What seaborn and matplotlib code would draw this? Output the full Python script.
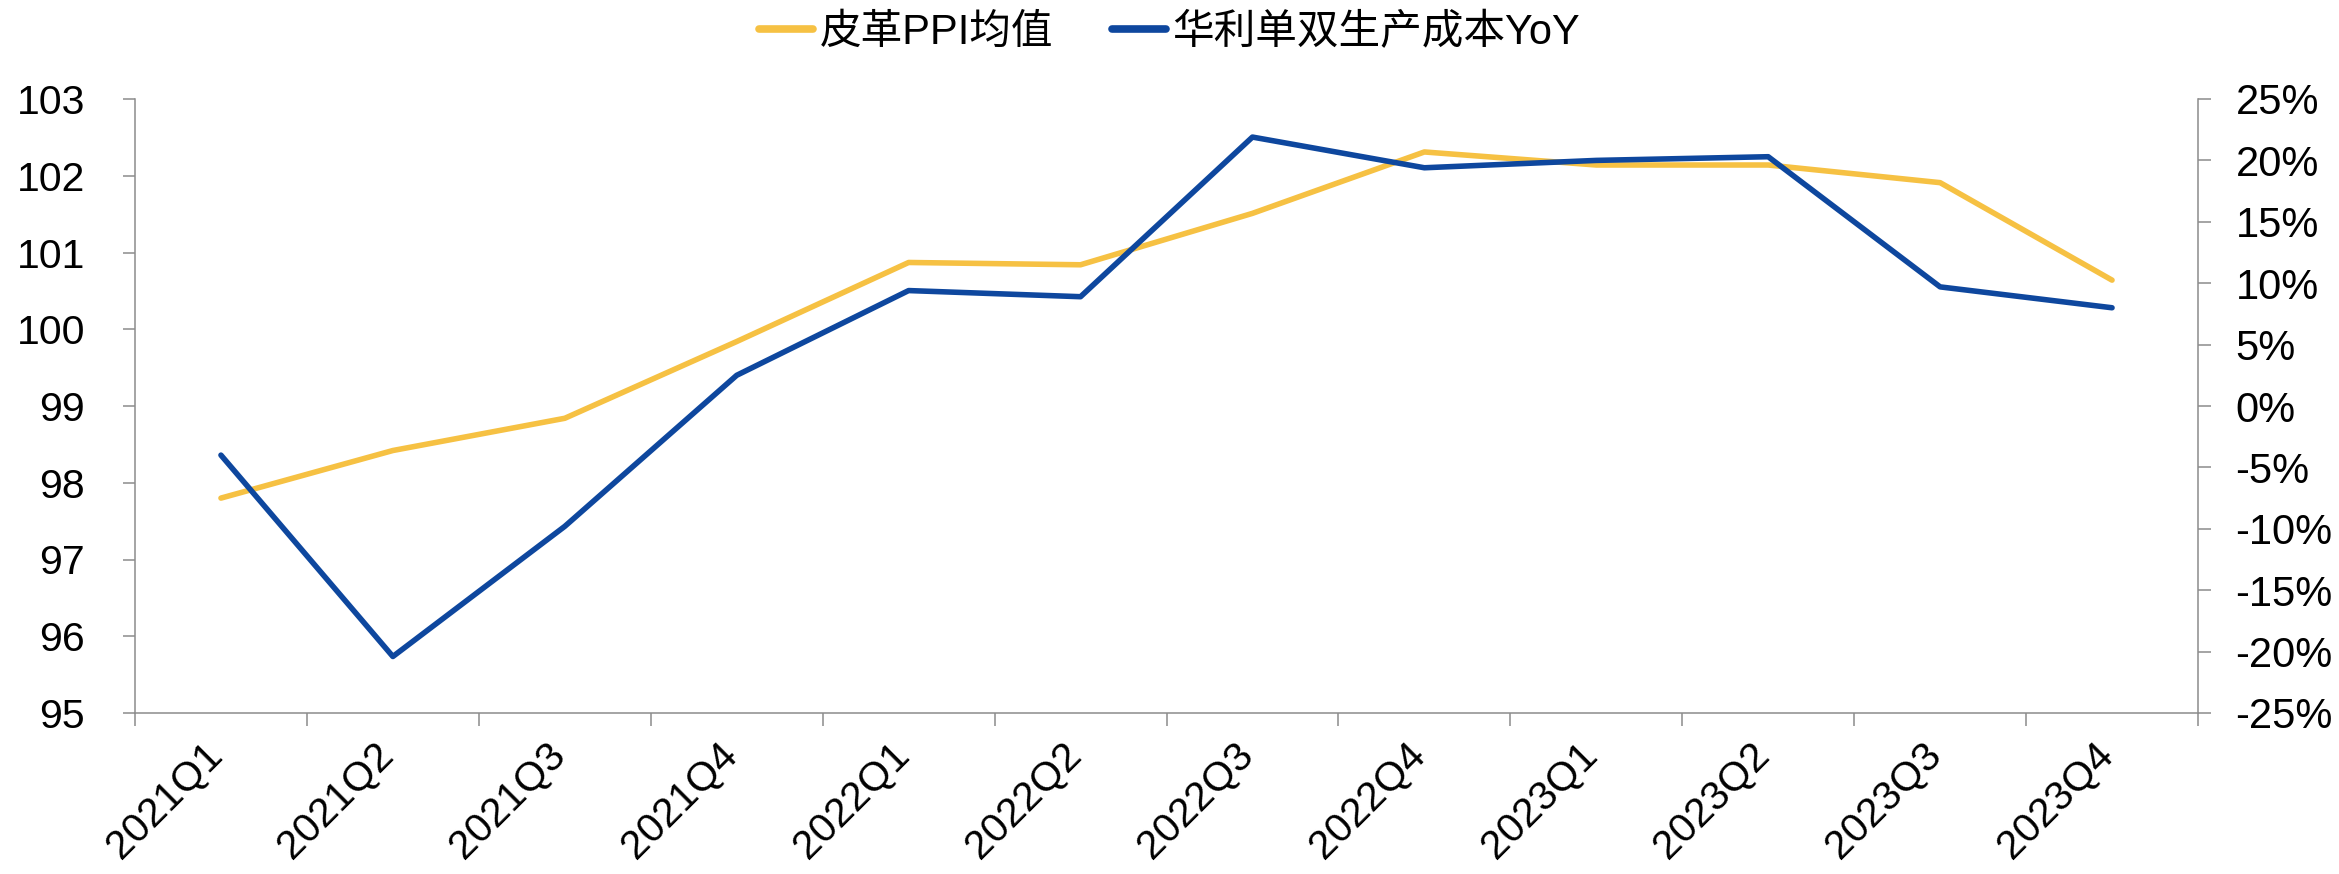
import numpy as np
import pandas as pd
import matplotlib
matplotlib.use("Agg")
import matplotlib.pyplot as plt
import matplotlib.transforms as mtransforms
from matplotlib.ticker import PercentFormatter
from matplotlib.lines import Line2D
import seaborn as sns


# data
quarters = ["2021Q1", "2021Q2", "2021Q3", "2021Q4",
            "2022Q1", "2022Q2", "2022Q3", "2022Q4",
            "2023Q1", "2023Q2", "2023Q3", "2023Q4"]
ppi_mean = [97.80, 98.42, 98.84, 99.84, 100.87, 100.84,
            101.51, 102.31, 102.14, 102.14, 101.91, 100.64]
cost_yoy = [-4.0, -20.4, -9.8, 2.5, 9.4, 8.9,
            21.9, 19.4, 20.0, 20.3, 9.7, 8.0]

ppi_label = "皮革PPI均值"
yoy_label = "华利单双生产成本YoY"

PPI_COLOR = "#F6C143"
YOY_COLOR = "#0E479E"
AXIS_GRAY = "#8C8C8C"

sns.set_style("white")
plt.rcParams["font.family"] = ["Liberation Sans", "Noto Sans CJK SC", "DejaVu Sans"]
plt.rcParams["axes.unicode_minus"] = False
plt.rcParams["text.color"] = "black"
plt.rcParams["xtick.labelcolor"] = "black"
plt.rcParams["ytick.labelcolor"] = "black"

df = pd.DataFrame({"quarter": quarters, "ppi": ppi_mean, "yoy": cost_yoy})

W, H = 2339, 874
fig = plt.figure(figsize=(W / 100, H / 100), dpi=100)
ax = fig.add_axes([135 / W, 1 - 713 / H, (2198 - 135) / W, (713 - 99) / H])

sns.lineplot(data=df, x="quarter", y="ppi", ax=ax, color=PPI_COLOR,
             linewidth=4, sort=False)
ax2 = ax.twinx()
sns.lineplot(data=df, x="quarter", y="yoy", ax=ax2, color=YOY_COLOR,
             linewidth=4, sort=False)

# axes limits / ticks
n = len(quarters)
ax.set_xlim(-0.5, n - 0.5)
ax.set_ylim(95, 103)
ax.set_yticks(np.arange(95, 104, 1))
ax2.set_ylim(-25, 25)
ax2.set_yticks(np.arange(-25, 26, 5))
ax2.yaxis.set_major_formatter(PercentFormatter(decimals=0))

# boundary ticks (major) + centred labels (minor), Excel style
ax.set_xticks(np.arange(-0.5, n, 1.0), [""] * (n + 1))
ax.set_xticks(np.arange(n), quarters, minor=True)

for a in (ax, ax2):
    a.set_xlabel("")
    a.set_ylabel("")
    a.grid(False)
    for s in a.spines.values():
        s.set_color(AXIS_GRAY)
        s.set_linewidth(1.1)

ax.spines["top"].set_visible(False)
ax.spines["right"].set_visible(False)
ax2.spines["top"].set_visible(False)
ax2.spines["left"].set_visible(False)
ax2.spines["bottom"].set_visible(False)

ax.tick_params(axis="y", which="major", direction="out", length=9, width=1.1,
               color=AXIS_GRAY, labelcolor="black", pad=27, labelsize=29.5, left=True)
ax2.tick_params(axis="y", which="major", direction="out", length=9, width=1.1,
                color=AXIS_GRAY, labelcolor="black", pad=18, labelsize=30, right=True)
ax.tick_params(axis="x", which="major", direction="out", length=9, width=1.1,
               color=AXIS_GRAY, bottom=True)
ax.tick_params(axis="x", which="minor", length=0, pad=16, labelsize=29.5,
               labelcolor="black", bottom=True)

shift = mtransforms.ScaledTranslation(8 / 100, 0, fig.dpi_scale_trans)
for lab in ax.get_xticklabels(minor=True):
    lab.set_rotation(45)
    lab.set_ha("right")
    lab.set_transform(lab.get_transform() + shift)

# legend on top
handles = [Line2D([], [], color=PPI_COLOR, lw=5.5, solid_capstyle="round"),
           Line2D([], [], color=YOY_COLOR, lw=5.5, solid_capstyle="round")]
leg = fig.legend(handles, [ppi_label, yoy_label], loc="center",
                 bbox_to_anchor=(0.5, 1 - 33 / H), ncol=2, frameon=False,
                 prop={"family": ["Liberation Sans", "Noto Sans CJK SC"], "size": 30},
                 handlelength=1.3, handletextpad=0.15, columnspacing=1.4)
for t in leg.get_texts():
    t.set_color("black")

fig.savefig("out.png", dpi=100)
